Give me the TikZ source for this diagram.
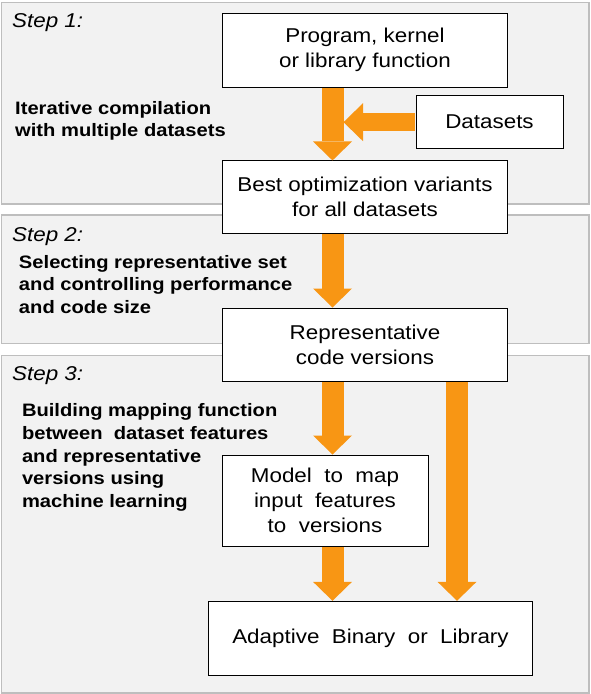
\documentclass[tikz,border=0pt]{standalone}
\usepackage{fontspec}
\setmainfont[FakeStretch=1.12]{Liberation Sans}
\usetikzlibrary{arrows.meta}
\definecolor{flow}{RGB}{248,150,20}
\definecolor{panelfill}{RGB}{242,242,242}
\definecolor{panelline}{RGB}{190,190,190}
\begin{document}
\begin{tikzpicture}[x=1pt,y=-1pt,
    panel/.style={draw=panelline,fill=panelfill,line width=1.2pt},
    box/.style={draw,fill=white,line width=1pt,inner sep=0pt,align=center,
      font=\fontsize{20}{25}\selectfont},
    steplabel/.style={anchor=base west,inner sep=0pt,
      font=\fontsize{20}{23}\selectfont\itshape},
    note/.style={anchor=base west,inner sep=0pt,align=left,
      font=\fontsize{18}{22.6}\selectfont\bfseries},
    fat/.style={flow,line width=22pt,shorten <=0.5pt,
      -{Triangle[width=39pt,length=19pt,line width=0pt]}},
    fatside/.style={flow,line width=18pt,shorten <=0.5pt,
      -{Triangle[width=38pt,length=19.5pt,line width=0pt]}}]
  \useasboundingbox (0,0) rectangle (590,694);
  % the three steps
  \draw[panel] (1.7,2.7) rectangle (589,204);
  \draw[panel] (1.7,215) rectangle (589,343.7);
  \draw[panel] (1.7,355.7) rectangle (589,693);
  \node[steplabel] (step1) at (12,27) {Step 1:};
  \node[steplabel] (step2) at (12,241.7) {Step 2:};
  \node[steplabel] (step3) at (12,380.7) {Step 3:};
  % notes sit on the baseline of their last line
  \node[note] (iter) at (15,136.7) {Iterative compilation\\with multiple datasets};
  \node[note] (select) at (18.8,313.3) {Selecting representative set\\and controlling performance\\and code size};
  \node[note] (build) at (21.8,507.3) {Building mapping function\\between\ \ dataset features\\and representative\\versions using\\machine learning};
  % boxes
  \node[box,minimum width=285pt,minimum height=74pt] (prog) at (365,50.3)
    {Program, kernel\\or library function};
  \node[box,minimum width=147pt,minimum height=53pt] (datasets) at (489.5,122.2)
    {Datasets};
  \node[box,minimum width=285pt,minimum height=72.5pt] (best) at (365,197.2)
    {Best optimization variants\\for all datasets};
  \node[box,minimum width=285pt,minimum height=73pt] (rep) at (365,344.5)
    {Representative\\code versions};
  \node[box,minimum width=206pt,minimum height=91pt] (model) at (325,500.5)
    {Model\ \ to\ \ map\\input\ \ features\\to\ \ versions};
  \node[box,minimum width=324.4pt,minimum height=74pt] (adaptive) at (370.5,638.3)
    {Adaptive\ \ Binary\ \ or\ \ Library};
  % flow arrows
  \coordinate (spine) at (332.5,0);
  \coordinate (side) at (457,0);
  \coordinate (merge) at (343.5,122.2);
  \begin{scope}[fat]
    \draw (prog.south -| spine) -- (best.north -| spine);
    \draw (best.south -| spine) -- (rep.north -| spine);
    \draw (rep.south -| spine) -- (model.north -| spine);
    \draw (model.south -| spine) -- (adaptive.north -| spine);
    \draw (rep.south -| side) -- (adaptive.north -| side);
  \end{scope}
  \draw[fatside] (datasets.west) -- (merge);
\end{tikzpicture}
\end{document}
